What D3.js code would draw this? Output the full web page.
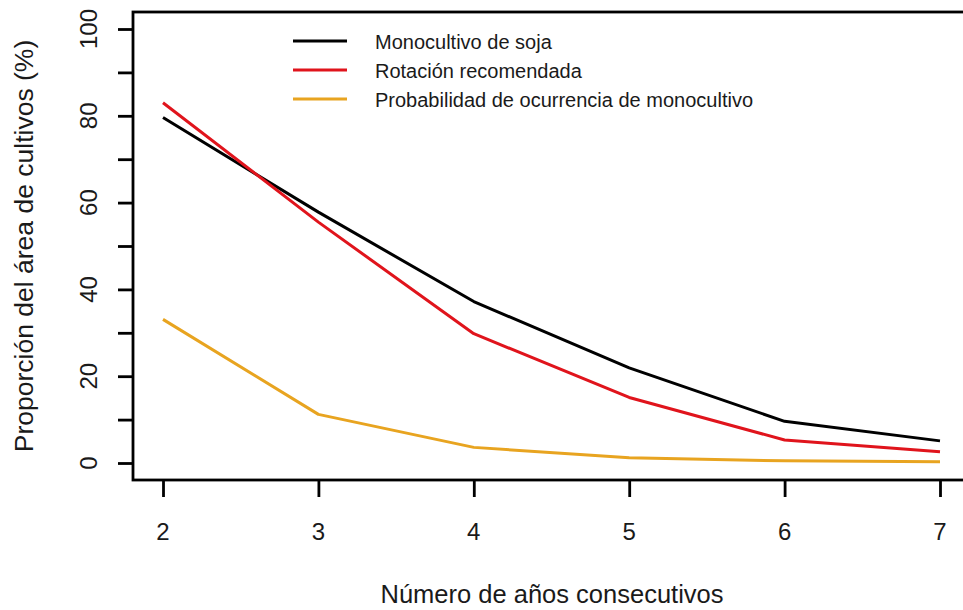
<!DOCTYPE html>
<html><head><meta charset="utf-8">
<script src="https://cdn.jsdelivr.net/npm/d3@7"></script>
<style>
html,body{margin:0;padding:0;background:#fff;}
svg{display:block;font-family:"Liberation Sans",Arial,sans-serif;}
</style></head>
<body><svg id="c" width="963" height="610"></svg>
<script>
const years = [2, 3, 4, 5, 6, 7];
const monocultivo = [79.6, 57.8, 37.2, 21.9, 9.6, 5.1];
const rotacion = [83.0, 55.5, 29.8, 15.1, 5.3, 2.6];
const probabilidad = [33.1, 11.2, 3.6, 1.2, 0.5, 0.3];
const seriesNames = ["Monocultivo de soja", "Rotación recomendada", "Probabilidad de ocurrencia de monocultivo"];
const seriesColors = ["#000000", "#e0141c", "#e8a420"];
const yTicks = [0, 10, 20, 30, 40, 50, 60, 70, 80, 90, 100];
const yLabels = [0, 20, 40, 60, 80, 100];
const xTicks = [2, 3, 4, 5, 6, 7];
const xTitle = "Número de años consecutivos";
const yTitle = "Proporción del área de cultivos (%)";

const svg = d3.select("#c");
const x = d3.scaleLinear().domain([2, 7]).range([163, 940]);
const y = d3.scaleLinear().domain([0, 100]).range([463, 29]);
const box = {l: 133, t: 12, r: 971, b: 480};

// plot box
svg.append("rect").attr("x", box.l).attr("y", box.t)
  .attr("width", box.r - box.l).attr("height", box.b - box.t)
  .attr("fill", "none").attr("stroke", "#000").attr("stroke-width", 2.8);

// y axis
const yAxis = d3.axisLeft(y).tickValues(yTicks).tickSize(15).tickPadding(0)
  .tickFormat(() => "");
const gy = svg.append("g").attr("transform", `translate(${box.l},0)`).call(yAxis);
gy.select(".domain").remove();
gy.selectAll(".tick line").attr("stroke", "#000").attr("stroke-width", 2.8);
svg.append("g").selectAll("text").data(yLabels).join("text")
  .attr("transform", d => `translate(97,${y(d)}) rotate(-90)`)
  .attr("text-anchor", "middle").attr("font-size", 24).attr("fill", "#1a1a1a")
  .text(d => d);

// x axis
const xAxis = d3.axisBottom(x).tickValues(xTicks).tickSize(17).tickPadding(0)
  .tickFormat(() => "");
const gx = svg.append("g").attr("transform", `translate(0,${box.b})`).call(xAxis);
gx.select(".domain").remove();
gx.selectAll(".tick line").attr("stroke", "#000").attr("stroke-width", 2.8);
svg.append("g").selectAll("text").data(xTicks).join("text")
  .attr("x", d => x(d)).attr("y", 540)
  .attr("text-anchor", "middle").attr("font-size", 24).attr("fill", "#1a1a1a")
  .text(d => d);

// titles
svg.append("text").attr("x", (box.l + box.r) / 2).attr("y", 603)
  .attr("text-anchor", "middle").attr("font-size", 25.5).attr("fill", "#1a1a1a").text(xTitle);
svg.append("text").attr("transform", `translate(33,${(box.t + box.b) / 2}) rotate(-90)`)
  .attr("text-anchor", "middle").attr("font-size", 26.5).attr("fill", "#1a1a1a").text(yTitle);

// lines
const series = [monocultivo, rotacion, probabilidad];
const line = d3.line().x((d, i) => x(years[i])).y(d => y(d));
series.forEach((s, k) => {
  svg.append("path").datum(s).attr("d", line)
    .attr("fill", "none").attr("stroke", seriesColors[k])
    .attr("stroke-width", 3).attr("stroke-linejoin", "round");
});

// legend
const legY = [41, 70, 99];
const leg = svg.append("g");
seriesNames.forEach((n, k) => {
  leg.append("line").attr("x1", 293).attr("x2", 347).attr("y1", legY[k]).attr("y2", legY[k])
    .attr("stroke", seriesColors[k]).attr("stroke-width", 3);
  leg.append("text").attr("x", 375).attr("y", legY[k] + 8)
    .attr("font-size", 20).attr("fill", "#1a1a1a").text(n);
});
</script></body></html>
